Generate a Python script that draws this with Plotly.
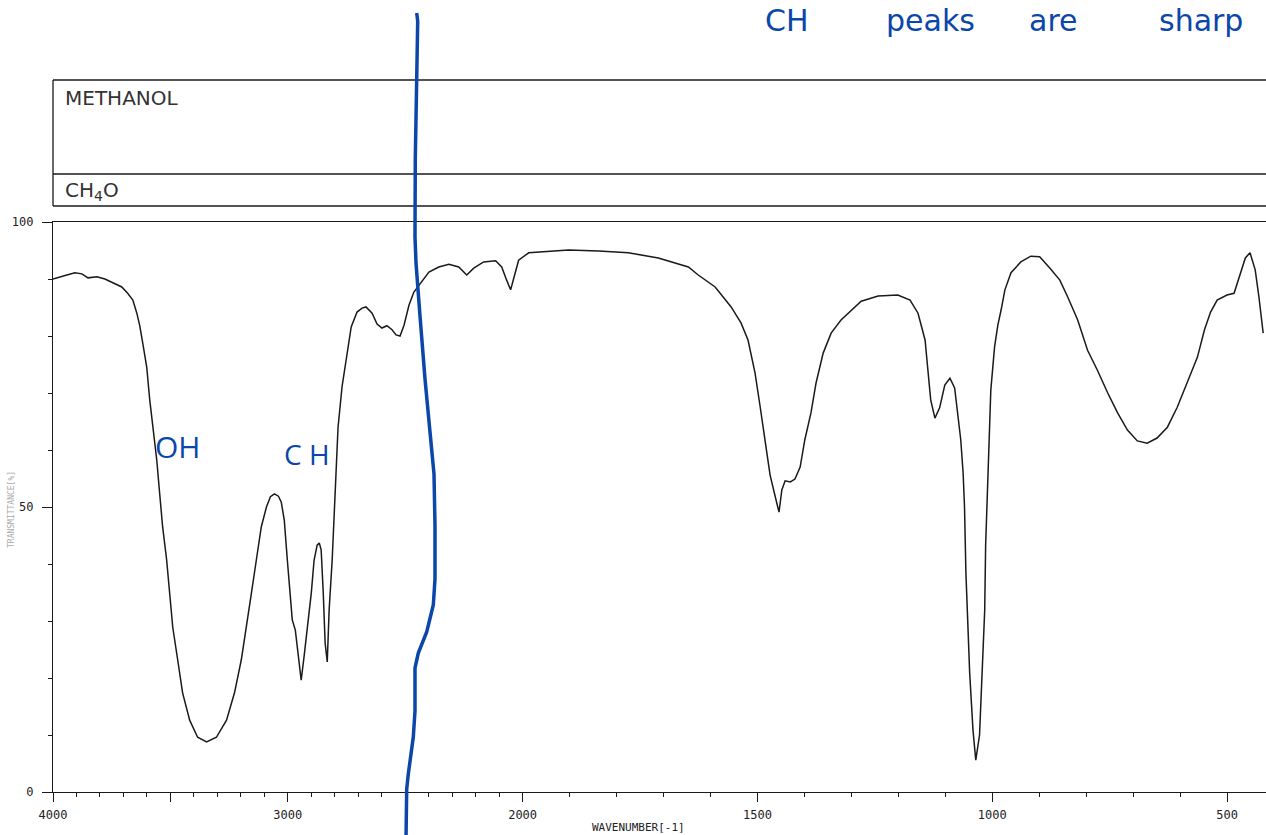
import plotly.graph_objects as go

# ---------------- data ----------------
wavenumber = [
    4000, 3970, 3941, 3907, 3877, 3851, 3813, 3779, 3745, 3707, 3682, 3660, 3643, 3631,
    3618, 3601, 3588, 3575, 3558, 3546, 3533, 3516, 3503, 3490, 3469, 3448, 3418, 3384,
    3346, 3304, 3261, 3227, 3198, 3176, 3155, 3134, 3113, 3091, 3074, 3057, 3040, 3028,
    3015, 3002, 2989, 2981, 2968, 2955, 2943, 2930, 2917, 2900, 2888, 2875, 2866, 2858,
    2849, 2841, 2832, 2824, 2811, 2798, 2786, 2769, 2752, 2730, 2705, 2684, 2667, 2641,
    2620, 2599, 2578, 2556, 2539, 2522, 2505, 2484, 2463, 2442, 2399, 2357, 2314, 2272,
    2238, 2208, 2166, 2115, 2089, 2068, 2051, 2034, 2017, 1987, 1945, 1902, 1838, 1775,
    1711, 1647, 1626, 1590, 1556, 1535, 1520, 1505, 1494, 1484, 1473, 1462, 1454, 1448,
    1441, 1430, 1420, 1409, 1399, 1386, 1375, 1360, 1343, 1322, 1279, 1243, 1201, 1175,
    1158, 1143, 1137, 1131, 1122, 1112, 1101, 1090, 1080, 1073, 1067, 1062, 1059, 1056,
    1052, 1048, 1041, 1035, 1027, 1020, 1016, 1014, 1010, 1005, 1003, 995, 988, 981,
    973, 960, 939, 918, 899, 877, 856, 839, 818, 797, 776, 754, 733, 712,
    691, 670, 649, 627, 606, 585, 563, 548, 535, 521, 500, 485, 474, 461,
    451, 440, 432, 423,
]
transmittance = [
    90.0, 90.4, 90.7, 91.1, 90.9, 90.2, 90.4, 90.0, 89.3, 88.6, 87.5, 86.3, 84.0, 81.9,
    78.8, 74.6, 68.8, 64.0, 58.2, 52.5, 46.5, 40.7, 34.9, 28.9, 23.2, 17.4, 12.6, 9.6,
    8.8, 9.6, 12.6, 17.4, 23.2, 28.9, 34.9, 40.7, 46.5, 50.0, 51.8, 52.3, 51.9, 50.9,
    47.7, 40.7, 33.7, 30.2, 28.4, 24.0, 19.6, 24.0, 28.9, 34.9, 40.7, 43.3, 43.7, 42.5,
    34.9, 26.1, 22.8, 31.9, 40.7, 52.5, 64.0, 71.1, 75.8, 81.6, 84.2, 84.9, 85.1, 84.0,
    82.1, 81.4, 81.8, 81.1, 80.2, 80.0, 81.9, 85.4, 87.7, 88.9, 91.2, 92.1, 92.6, 92.1,
    90.7, 91.9, 93.0, 93.2, 92.1, 89.8, 88.1, 90.7, 93.3, 94.6, 94.9, 95.1, 94.9, 94.6,
    93.7, 92.1, 90.7, 88.6, 85.1, 82.3, 79.3, 73.5, 67.5, 61.8, 55.6, 51.8, 49.1, 53.0,
    54.6, 54.4, 54.9, 57.0, 61.8, 66.5, 71.8, 77.0, 80.5, 82.8, 86.1, 87.0, 87.2, 86.3,
    84.0, 79.3, 73.5, 68.8, 65.6, 67.4, 71.4, 72.6, 70.9, 66.5, 61.8, 56.0, 50.0, 38.4,
    30.7, 20.9, 10.9, 5.6, 10.0, 22.3, 31.9, 43.3, 53.0, 61.8, 70.5, 78.1, 81.9, 84.6,
    88.1, 91.1, 93.0, 94.0, 93.9, 91.9, 89.8, 86.8, 82.8, 77.5, 74.0, 70.0, 66.5, 63.5,
    61.6, 61.2, 62.1, 64.0, 67.5, 71.8, 76.3, 81.1, 84.2, 86.3, 87.2, 87.5, 90.4, 93.7,
    94.6, 91.6, 86.8, 80.5,
]

x_labeled_ticks = [4000, 3000, 2000, 1500, 1000, 500]
x_labels = ["4000", "3000", "2000", "1500", "1000", "500"]
x_long_unlabeled_ticks = [3500, 2500]
x_minor_ticks = [w for w in range(3900, 400, -100) if w % 500 != 0]
y_major_ticks = [0, 50, 100]
y_major_labels = ["0", "50", "100"]
y_minor_ticks = [10, 20, 30, 40, 60, 70, 80, 90]
x_limit_left, x_limit_right = 4000, 417

title_text = "METHANOL"
formula_text = "CH<sub>4</sub>O"
x_title = "WAVENUMBER[-1]"
y_title = "TRANSMITTANCE[%]"


# Split wavenumber scale: 4000-2000 compressed, 2000-400 expanded 2x
def to_axis(w):
    return 4000 - w if w >= 2000 else 2000 + 2 * (2000 - w)


# ---------------- layout helpers (pixel -> paper) ----------------
W, H = 1266, 835
L, T, PB = 53, 222, 792
R, B = 0, H - PB
PW, PH = W - L - R, PB - T


def px(x):
    return (x - L) / PW


def py(y):
    return (PB - y) / PH


INK = "#1a1a1a"
BLUE = "#0b46a9"
MONO = "DejaVu Sans Mono"
XR = [to_axis(x_limit_left), to_axis(x_limit_right)]

fig = go.Figure()
fig.add_trace(go.Scatter(
    x=[to_axis(w) for w in wavenumber],
    y=transmittance,
    mode="lines",
    line=dict(color=INK, width=1.5),
    hoverinfo="skip",
))
fig.add_trace(go.Scatter(x=[None], y=[None], xaxis="x2", mode="lines",
                         hoverinfo="skip", showlegend=False))

fig.update_layout(
    width=W, height=H, autosize=False,
    margin=dict(l=L, r=R, t=T, b=B, pad=0),
    paper_bgcolor="white", plot_bgcolor="white",
    showlegend=False,
    xaxis=dict(
        range=XR,
        tickmode="array",
        tickvals=[to_axis(w) for w in x_labeled_ticks],
        ticktext=x_labels,
        ticks="outside", ticklen=9, tickwidth=1.3, tickcolor=INK,
        minor=dict(tickmode="array", tickvals=[to_axis(w) for w in x_minor_ticks],
                   ticks="outside", ticklen=4, tickwidth=1.3, tickcolor=INK),
        showline=True, linecolor=INK, linewidth=1.3, mirror=True,
        showgrid=False, zeroline=False,
        tickfont=dict(family=MONO, size=12, color="#222"),
        ticklabelstandoff=2,
    ),
    xaxis2=dict(
        overlaying="x", anchor="y", side="bottom", range=XR,
        tickmode="array",
        tickvals=[to_axis(w) for w in x_long_unlabeled_ticks],
        ticks="outside", ticklen=9, tickwidth=1.3, tickcolor=INK,
        showticklabels=False, showline=False, showgrid=False, zeroline=False,
    ),
    yaxis=dict(
        range=[0, 100],
        tickmode="array",
        tickvals=y_major_ticks,
        ticktext=y_major_labels,
        ticks="outside", ticklen=10, tickwidth=1.3, tickcolor=INK,
        minor=dict(tickmode="array", tickvals=y_minor_ticks,
                   ticks="outside", ticklen=4, tickwidth=1.3, tickcolor=INK),
        showline=True, linecolor=INK, linewidth=1.3,
        showgrid=False, zeroline=False,
        tickfont=dict(family=MONO, size=12, color="#222"),
        ticklabelstandoff=6,
    ),
)

# header boxes
shapes = [
    dict(type="line", xref="paper", yref="paper", x0=px(53), x1=px(1266), y0=py(80), y1=py(80)),
    dict(type="line", xref="paper", yref="paper", x0=px(53), x1=px(1266), y0=py(174), y1=py(174)),
    dict(type="line", xref="paper", yref="paper", x0=px(53), x1=px(1266), y0=py(206), y1=py(206)),
    dict(type="line", xref="paper", yref="paper", x0=px(53), x1=px(53), y0=py(80), y1=py(206)),
]
for s in shapes:
    s["line"] = dict(color=INK, width=1.3)

# handwritten blue vertical stroke
stroke = [(416.7, 13), (417.7, 21), (416.7, 79), (415.3, 158), (415, 237), (416, 263),
          (420, 316), (425, 379), (430, 432), (434, 474), (435, 526), (435, 579),
          (433.3, 605), (426.7, 632), (418.3, 653), (415, 668), (415, 711), (413.3, 737),
          (408.3, 774), (406.7, 789), (406, 840)]
path = "M " + " L ".join(f"{px(x):.5f},{py(y):.5f}" for x, y in stroke)
shapes.append(dict(type="path", xref="paper", yref="paper", path=path,
                   line=dict(color=BLUE, width=3.5)))
fig.update_layout(shapes=shapes)

NOTE_Y = 20.5
annotations = [
    dict(text=title_text, x=px(63), y=py(97.5), xanchor="left", yanchor="middle",
         font=dict(family="DejaVu Sans", size=20, color="#333")),
    dict(text=formula_text, x=px(63), y=py(191.5), xanchor="left", yanchor="middle",
         font=dict(family="DejaVu Sans", size=20, color="#333")),
    dict(text=x_title, x=px(638), y=py(827), xanchor="center", yanchor="middle",
         font=dict(family=MONO, size=11, color="#222")),
    dict(text=y_title, x=px(11), y=py(510), xanchor="center", yanchor="middle", textangle=-90,
         font=dict(family=MONO, size=8, color="#aaa")),
    # handwritten notes
    dict(text="OH", x=px(177), y=py(446), xanchor="center", yanchor="middle",
         font=dict(family="Open Sans", size=30, color=BLUE)),
    dict(text="C H", x=px(307), y=py(454), xanchor="center", yanchor="middle",
         font=dict(family="Open Sans", size=28, color=BLUE)),
    dict(text="CH", x=px(787), y=py(NOTE_Y), xanchor="center", yanchor="middle",
         font=dict(family="DejaVu Sans", size=30, color=BLUE)),
    dict(text="peaks", x=px(930), y=py(NOTE_Y), xanchor="center", yanchor="middle",
         font=dict(family="DejaVu Sans", size=30, color=BLUE)),
    dict(text="are", x=px(1053), y=py(NOTE_Y), xanchor="center", yanchor="middle",
         font=dict(family="DejaVu Sans", size=30, color=BLUE)),
    dict(text="sharp", x=px(1201), y=py(NOTE_Y), xanchor="center", yanchor="middle",
         font=dict(family="DejaVu Sans", size=30, color=BLUE)),
]
for a in annotations:
    a.update(xref="paper", yref="paper", showarrow=False)
fig.update_layout(annotations=annotations)

fig.write_html(
    "out.html",
    config={"displayModeBar": False},
    post_script="document.body.style.margin='0';document.body.style.overflow='hidden';",
)
